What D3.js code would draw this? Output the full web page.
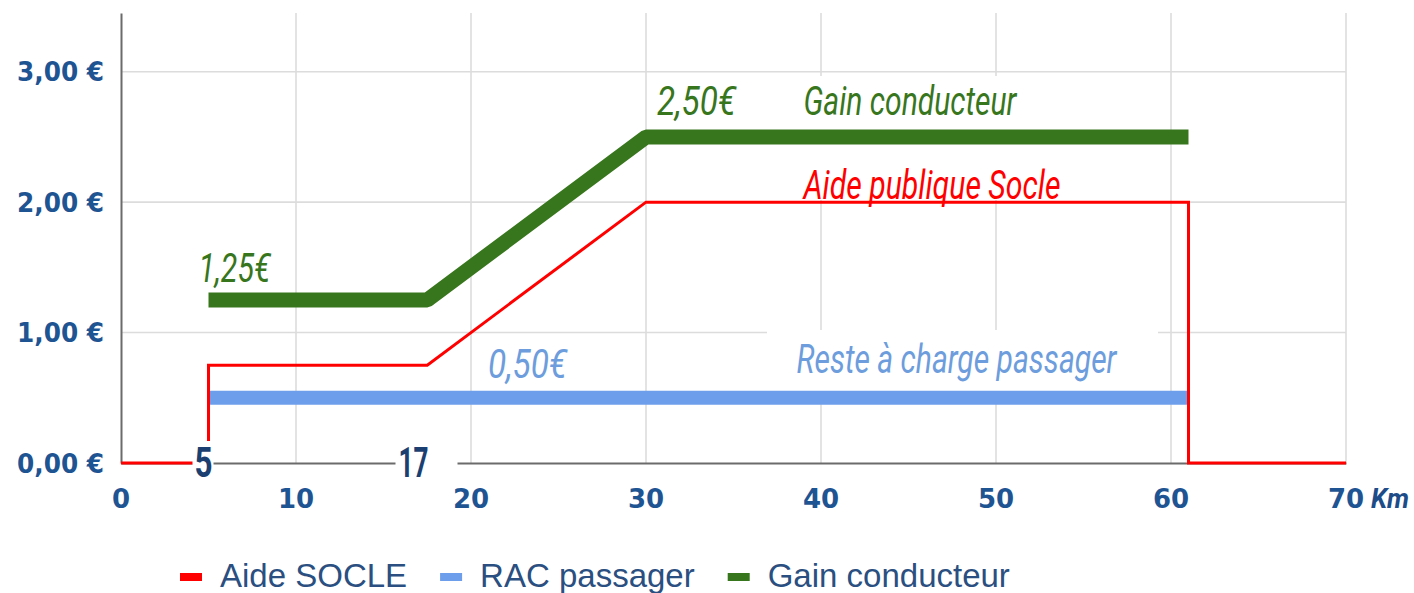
<!DOCTYPE html>
<html>
<head>
<meta charset="utf-8">
<script src="https://cdn.jsdelivr.net/npm/d3@7"></script>
<style>
  html, body { margin: 0; padding: 0; background: #fff; }
  svg { display: block; }
</style>
</head>
<body>
<svg id="chart" width="1414" height="593"></svg>
<script>
// ---------- DATA ----------
const kmTicks = [0, 10, 20, 30, 40, 50, 60, 70];
const euroTicks = [0, 1, 2, 3];
const euroTickLabels = ["0,00 €", "1,00 €", "2,00 €", "3,00 €"];
const markKm = [5, 17];
const markLabels = ["5", "17"];

const aideKm = [0, 5, 5, 17.5, 30, 61, 61, 70];
const aideEuro = [0, 0, 0.75, 0.75, 2, 2, 0, 0];
const racKm = [5, 61];
const racEuro = [0.5, 0.5];
const gainKm = [5, 17.5, 30, 61];
const gainEuro = [1.25, 1.25, 2.5, 2.5];

const seriesNames = ["Aide SOCLE", "RAC passager", "Gain conducteur"];
const annTexts = ["1,25€", "2,50€", "Gain conducteur", "Aide publique Socle", "0,50€", "Reste à charge passager"];
const annKm = [5, 30, 39, 39, 20, 38.6];
const annEuro = [1.25, 2.5, 2.5, 2, 0.5, 0.5];

// ---------- LAYOUT ----------
const colors = { red: "#ff0000", blue: "#6d9eeb", green: "#38761d" };
const x = d3.scaleLinear().domain([0, 70]).range([121, 1346]);
const y = d3.scaleLinear().domain([0, 3.45]).range([463, 13]);
const svg = d3.select("#chart");

// grid
const grid = svg.append("g");
grid.selectAll("line.v").data(kmTicks.slice(1)).join("line")
  .attr("x1", d => x(d)).attr("x2", d => x(d))
  .attr("y1", y(3.45)).attr("y2", y(0))
  .attr("stroke", "#dcdcdc").attr("stroke-width", 1.6);
grid.selectAll("line.h").data(euroTicks.slice(1)).join("line")
  .attr("x1", x(0)).attr("x2", x(70))
  .attr("y1", d => y(d)).attr("y2", d => y(d))
  .attr("stroke", "#dcdcdc").attr("stroke-width", 1.6);

// white label boxes (pasted text boxes in original)
svg.append("rect").attr("x", 651).attr("y", 76).attr("width", 508).attr("height", 124).attr("fill", "#fff");
svg.append("rect").attr("x", 767).attr("y", 330).attr("width", 391).attr("height", 70).attr("fill", "#fff");

// axes lines via d3 axes
const xAxis = svg.append("g").attr("transform", `translate(0,${y(0)})`)
  .call(d3.axisBottom(x).tickValues(kmTicks).tickSize(0).tickFormat(""));
xAxis.select(".domain").attr("stroke", "#6b6b6b").attr("stroke-width", 2);
const yAxis = svg.append("g").attr("transform", `translate(${x(0)},0)`)
  .call(d3.axisLeft(y).tickValues(euroTicks).tickSize(0).tickFormat(""));
yAxis.select(".domain").attr("stroke", "#6b6b6b").attr("stroke-width", 2);

// tick labels
svg.append("g").selectAll("text").data(kmTicks).join("text")
  .attr("x", d => x(d)).attr("y", 508)
  .attr("text-anchor", "middle")
  .attr("font-family", "DejaVu Sans").attr("font-weight", "bold").attr("font-size", 26)
  .attr("fill", "#1f5493").text(d => d);
svg.append("g").selectAll("text").data(euroTicks).join("text")
  .attr("x", 104).attr("y", d => y(d)).attr("dy", "0.37em")
  .attr("text-anchor", "end")
  .attr("font-family", "DejaVu Sans").attr("font-weight", "bold").attr("font-size", 26)
  .attr("textLength", 87).attr("lengthAdjust", "spacingAndGlyphs")
  .attr("fill", "#1f5493").text((d, i) => euroTickLabels[i]);
svg.append("text").attr("x", x(70) + 25).attr("y", 508)
  .attr("font-family", "Roboto").attr("font-style", "italic").attr("font-weight", "bold").attr("font-size", 28)
  .attr("textLength", 38).attr("lengthAdjust", "spacingAndGlyphs")
  .attr("fill", "#1d4c88").text("Km");

// series
const line = d3.line().x(d => x(d[0])).y(d => y(d[1]));
const toPts = (a, b) => a.map((v, i) => [v, b[i]]);
svg.append("path").attr("d", line(toPts(racKm, racEuro)))
  .attr("fill", "none").attr("stroke", colors.blue).attr("stroke-width", 14);
svg.append("path").attr("d", line(toPts(gainKm, gainEuro)))
  .attr("fill", "none").attr("stroke", colors.green).attr("stroke-width", 15)
  .attr("stroke-linejoin", "bevel");
svg.append("path").attr("d", line(toPts(aideKm, aideEuro)))
  .attr("fill", "none").attr("stroke", colors.red).attr("stroke-width", 3)
  .attr("stroke-linejoin", "miter");

// marker labels 5 and 17 with white boxes
const boxL = [16, 23], boxR = [5, 39];
markKm.forEach((k, i) => {
  svg.append("rect").attr("x", x(k) - boxL[i]).attr("y", 441)
    .attr("width", boxL[i] + boxR[i]).attr("height", 42).attr("fill", "#fff");
  svg.append("text").attr("x", x(k) - 5).attr("y", 477)
    .attr("text-anchor", "middle")
    .attr("font-family", "Roboto").attr("font-weight", "bold").attr("font-size", 42)
    .attr("textLength", i === 0 ? 18 : 30).attr("lengthAdjust", "spacingAndGlyphs")
    .attr("fill", "#1b3f70").text(markLabels[i]);
});

// annotations
const annColor = [colors.green, colors.green, colors.green, colors.red, "#6d9ddc", "#6d9ddc"];
const annDx = [-10, 11, 0, 0, 17, 0];
const annDy = [-18, -22, -22, -3, -20, -25];
const annLen = [72, 79, 213, 257, 79, 320];
annTexts.forEach((t, i) => {
  svg.append("text")
    .attr("x", x(annKm[i]) + annDx[i]).attr("y", y(annEuro[i]) + annDy[i])
    .attr("font-family", "Roboto").attr("font-style", "italic").attr("font-size", 41)
    .attr("textLength", annLen[i]).attr("lengthAdjust", "spacingAndGlyphs")
    .attr("fill", annColor[i]).text(t);
});

// legend
const legColors = [colors.red, colors.blue, colors.green];
let lx = 180;
const leg = svg.append("g");
seriesNames.forEach((n, i) => {
  leg.append("rect").attr("x", lx).attr("y", 573).attr("width", 22).attr("height", 8)
    .attr("fill", legColors[i]);
  const t = leg.append("text").attr("x", lx + 40).attr("y", 587)
    .attr("font-family", "Liberation Sans, Arial").attr("font-size", 33)
    .attr("fill", "#2a4f80").text(n);
  lx = lx + 40 + t.node().getComputedTextLength() + 33;
});
</script>
</body>
</html>
